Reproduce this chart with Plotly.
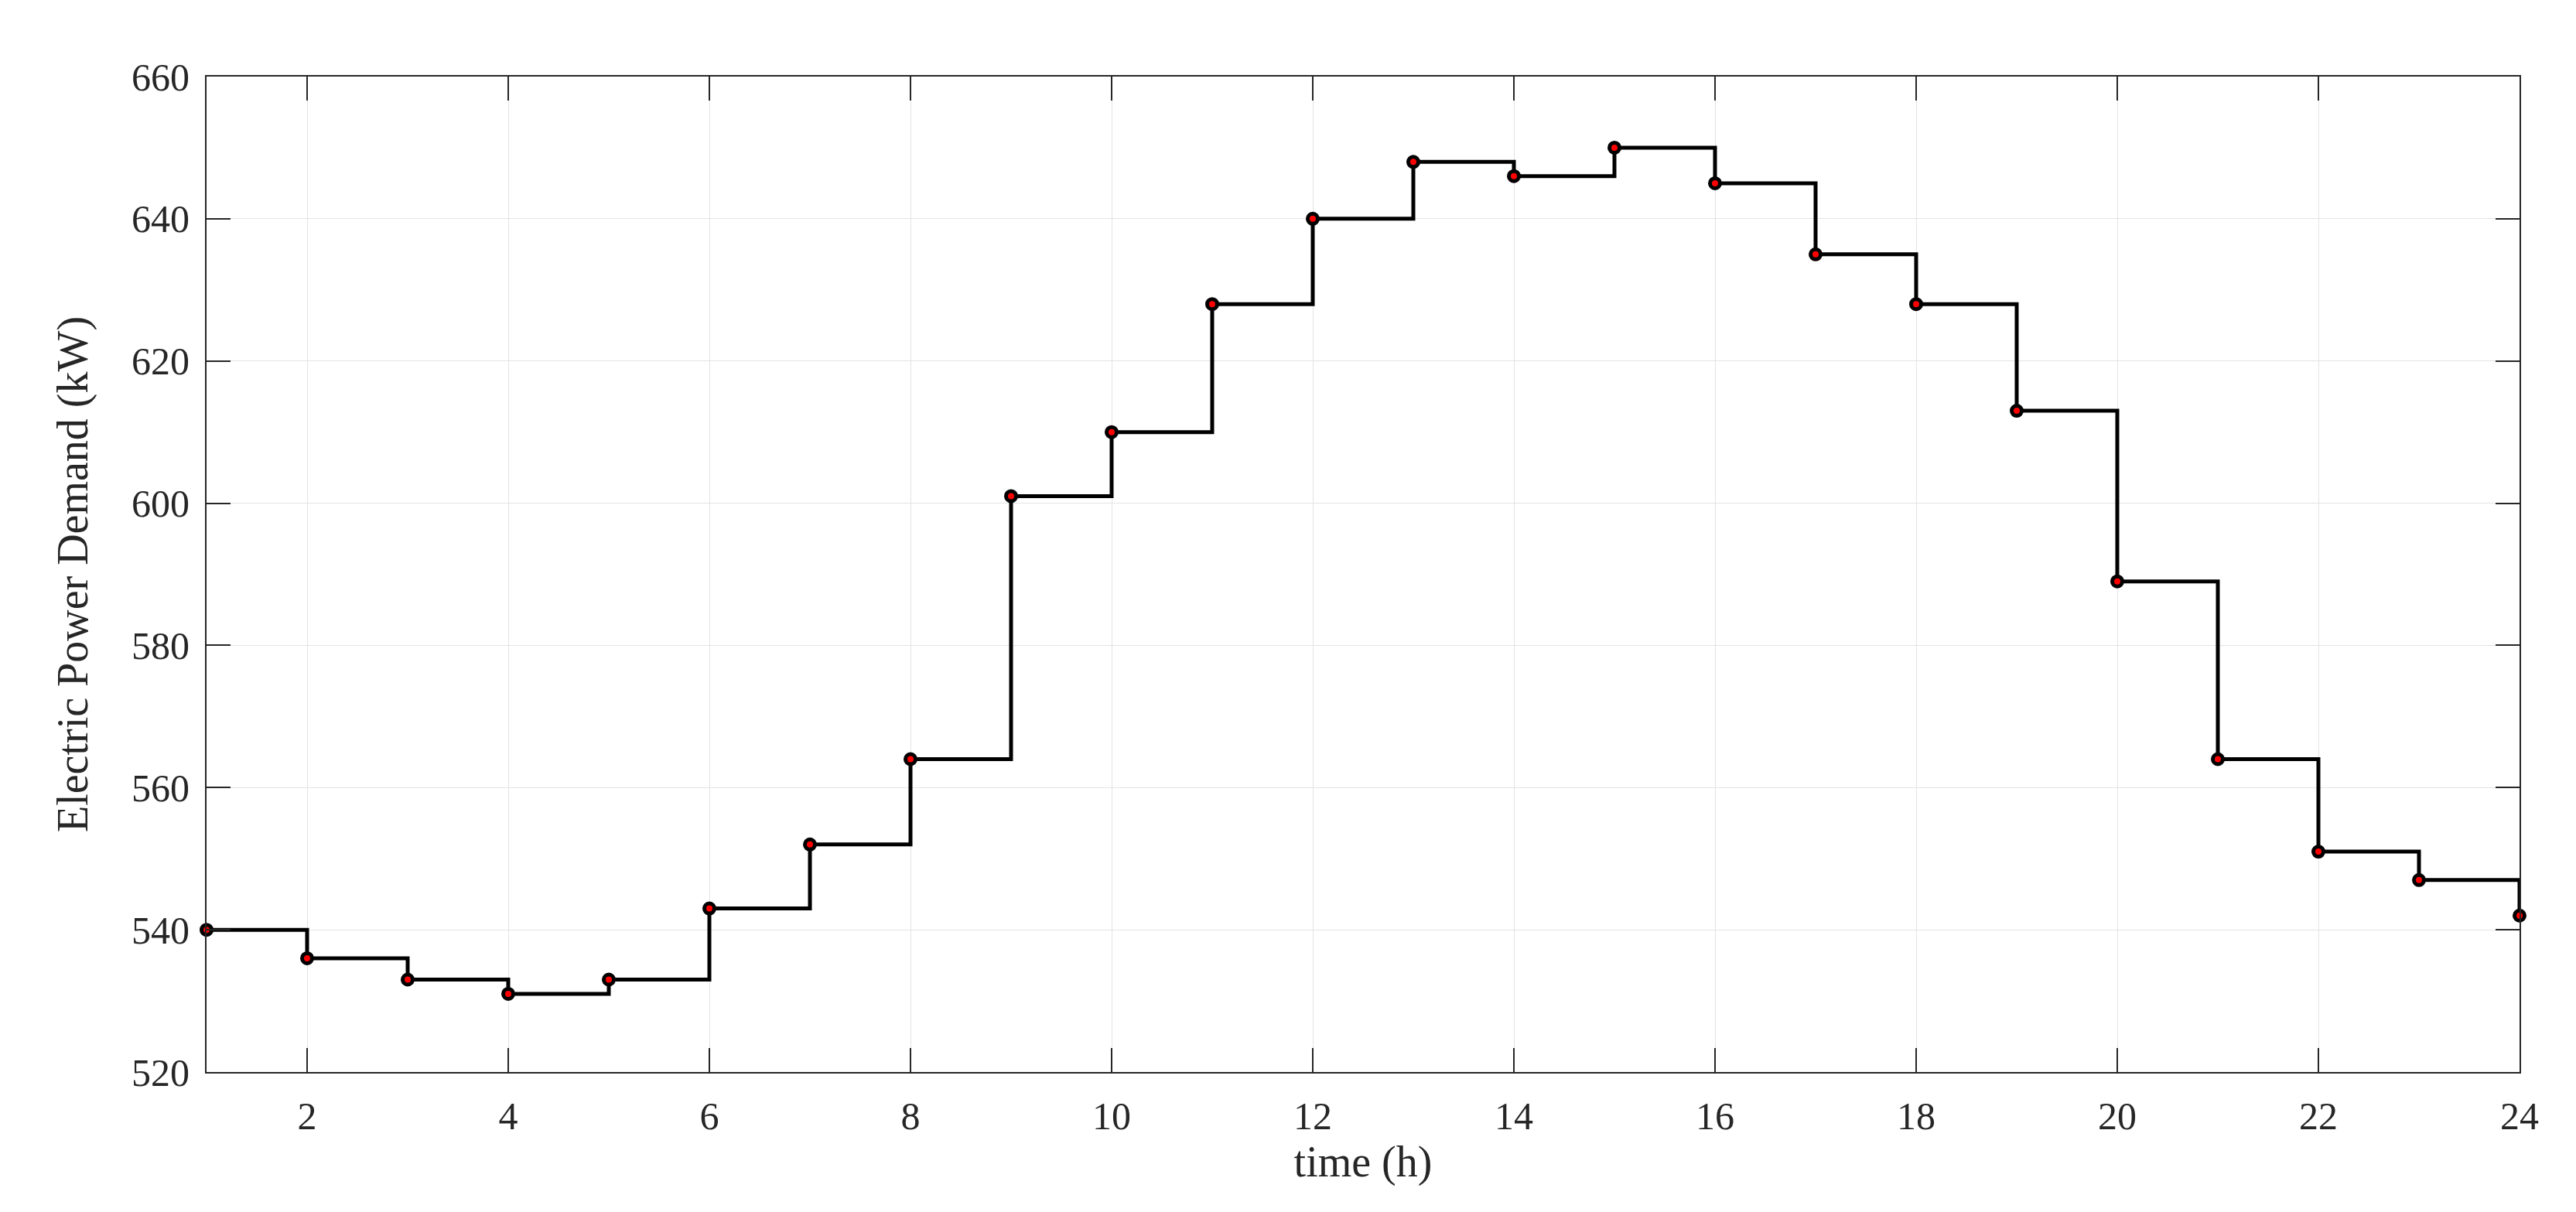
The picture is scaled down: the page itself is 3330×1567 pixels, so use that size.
import plotly.graph_objects as go

hours = list(range(1, 25))
demand = [540, 536, 533, 531, 533, 543, 552, 564, 601, 610, 628, 640,
          648, 646, 650, 645, 635, 628, 613, 589, 564, 551, 547, 542]
x_ticks = list(range(2, 25, 2))
y_ticks = list(range(520, 661, 20))

FONT = 'Liberation Serif, Times New Roman, serif'
AX_COLOR = '#262626'

fig = go.Figure()
fig.add_trace(go.Scatter(
    x=hours,
    y=demand,
    mode='lines+markers',
    line=dict(color='black', width=5, shape='hv'),
    marker=dict(color='red', size=13, line=dict(color='black', width=5)),
    cliponaxis=False,
    showlegend=False,
))

axis_common = dict(
    showline=True,
    linecolor=AX_COLOR,
    linewidth=2,
    mirror='ticks',
    ticks='inside',
    ticklen=31,
    tickwidth=2,
    tickcolor=AX_COLOR,
    showgrid=True,
    gridcolor='#e3e3e3',
    gridwidth=1,
    zeroline=False,
    tickfont=dict(family=FONT, size=50, color=AX_COLOR),
)

fig.update_layout(
    width=3330,
    height=1567,
    paper_bgcolor='white',
    plot_bgcolor='white',
    margin=dict(l=259, r=81, t=91, b=189),
    font=dict(family=FONT, color=AX_COLOR),
    xaxis=dict(
        axis_common,
        range=[1, 24],
        tickvals=x_ticks,
        ticklabelstandoff=12,
        title=dict(text='time (h)', font=dict(family=FONT, size=56, color=AX_COLOR), standoff=4),
    ),
    yaxis=dict(
        axis_common,
        range=[520, 660],
        tickvals=y_ticks,
        ticklabelstandoff=10,
        title=dict(text='Electric Power Demand (kW)', font=dict(family=FONT, size=56, color=AX_COLOR), standoff=38),
    ),
)

fig.write_html('out.html')
